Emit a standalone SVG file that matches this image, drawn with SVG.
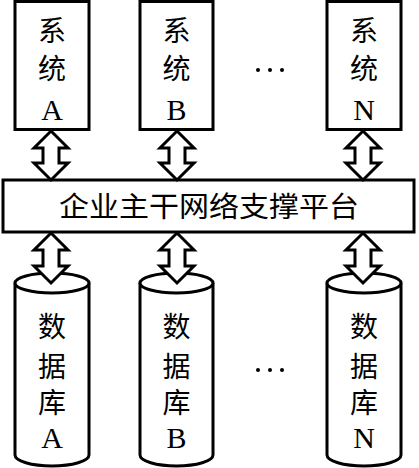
<svg xmlns="http://www.w3.org/2000/svg" width="419" height="468" viewBox="0 0 419 468">
<style>
.box{fill:#fff;stroke:#000;stroke-width:3}
.arr{fill:#fff;stroke:#000;stroke-width:3;stroke-linejoin:miter}
.t{font-family:"Liberation Serif","Noto Sans CJK SC",serif;font-size:28px;fill:#000;text-anchor:middle}
.l{font-size:30px}
.dots{fill:#000}
</style>
<rect width="419" height="468" fill="#fff"/>
<g id="sysA"><rect class="box" x="15" y="1.5" width="74" height="128"/>
<text class="t" x="52" y="41">系</text><text class="t" x="52" y="79">统</text><text class="t l" x="52" y="120">A</text></g>
<g id="sysB"><rect class="box" x="140" y="1.5" width="73" height="128"/>
<text class="t" x="176.5" y="41">系</text><text class="t" x="176.5" y="79">统</text><text class="t l" x="176.5" y="120">B</text></g>
<g id="sysN"><rect class="box" x="327" y="1.5" width="74" height="128"/>
<text class="t" x="364" y="41">系</text><text class="t" x="364" y="79">统</text><text class="t l" x="364" y="120">N</text></g>
<g id="dotsTop" class="dots"><circle cx="258" cy="70" r="2"/><circle cx="270" cy="70" r="2"/><circle cx="282" cy="70" r="2"/></g>
<g id="platform"><rect class="box" x="3" y="180" width="411" height="52"/>
<text class="t" x="209" y="217" textLength="300" lengthAdjust="spacingAndGlyphs">企业主干网络支撑平台</text></g>
<g id="dbA"><path class="box" d="M15,283 L15,455 A37,11 0 0 0 89,455 L89,283"/><ellipse class="box" cx="52" cy="283" rx="37" ry="10"/>
<text class="t" x="52" y="337">数</text><text class="t" x="52" y="377">据</text><text class="t" x="52" y="413">库</text><text class="t l" x="52" y="448">A</text></g>
<g id="dbB"><path class="box" d="M140,283 L140,455 A36.5,11 0 0 0 213,455 L213,283"/><ellipse class="box" cx="176.5" cy="283" rx="36.5" ry="10"/>
<text class="t" x="176.5" y="337">数</text><text class="t" x="176.5" y="377">据</text><text class="t" x="176.5" y="413">库</text><text class="t l" x="176.5" y="448">B</text></g>
<g id="dbN"><path class="box" d="M327,283 L327,455 A37,11 0 0 0 401,455 L401,283"/><ellipse class="box" cx="364" cy="283" rx="37" ry="10"/>
<text class="t" x="364" y="337">数</text><text class="t" x="364" y="377">据</text><text class="t" x="364" y="413">库</text><text class="t l" x="364" y="448">N</text></g>
<g id="dotsBottom" class="dots"><circle cx="258" cy="370" r="2"/><circle cx="270" cy="370" r="2"/><circle cx="282" cy="370" r="2"/></g>
<g id="connectors">
<path class="arr" d="M51,131 L68,148 L59,148 L59,163 L68,163 L51,180 L34,163 L43,163 L43,148 L34,148 Z"/>
<path class="arr" d="M177,131 L194,148 L185,148 L185,163 L194,163 L177,180 L160,163 L169,163 L169,148 L160,148 Z"/>
<path class="arr" d="M363,131 L380,148 L371,148 L371,163 L380,163 L363,180 L346,163 L355,163 L355,148 L346,148 Z"/>
<path class="arr" d="M51,233 L68,250 L59,250 L59,266 L68,266 L51,283 L34,266 L43,266 L43,250 L34,250 Z"/>
<path class="arr" d="M177,233 L194,250 L185,250 L185,266 L194,266 L177,283 L160,266 L169,266 L169,250 L160,250 Z"/>
<path class="arr" d="M363,233 L380,250 L371,250 L371,266 L380,266 L363,283 L346,266 L355,266 L355,250 L346,250 Z"/>
</g>
</svg>
